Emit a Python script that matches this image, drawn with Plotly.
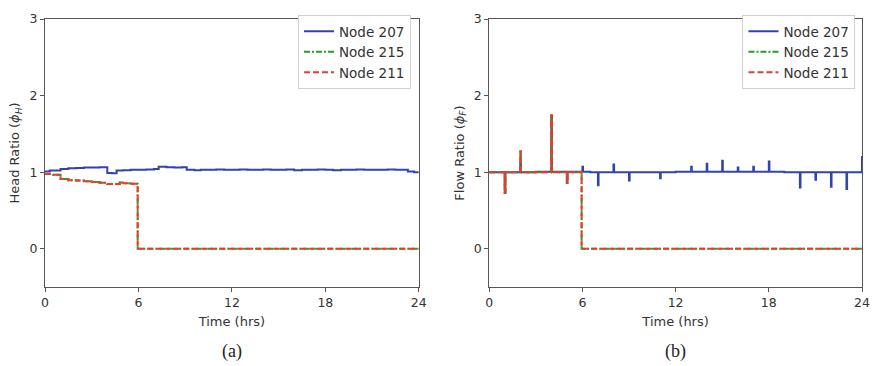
import plotly.graph_objects as go

# ---------------- data ----------------
legend_names = ["Node 207", "Node 215", "Node 211"]
x_ticks = [0, 6, 12, 18, 24]
y_ticks = [0, 1, 2, 3]

# (a) Head ratio
head207_t = [0, 0.3, 0.7, 1.0, 1.5, 2.0, 2.5, 3.0, 3.5, 4.0, 4.3, 4.6, 5.0, 5.5, 6.0, 6.5, 7.0, 7.3, 7.8, 8.3,
             8.8, 9.1, 9.6, 10, 10.5, 11, 11.5, 12, 12.5, 13, 13.5, 14, 14.5, 15, 15.5, 16, 16.5, 17, 17.5, 18,
             18.5, 19, 19.5, 20, 20.5, 21, 21.5, 22, 22.5, 23, 23.3, 23.7, 24]
head207_v = [1.01, 1.02, 1.02, 1.04, 1.05, 1.055, 1.06, 1.06, 1.065, 0.99, 0.985, 1.02, 1.025, 1.03, 1.03, 1.035, 1.04, 1.07, 1.065, 1.06,
             1.065, 1.03, 1.025, 1.03, 1.03, 1.035, 1.03, 1.03, 1.035, 1.03, 1.03, 1.035, 1.03, 1.03, 1.035, 1.025, 1.03, 1.03, 1.035, 1.03,
             1.025, 1.03, 1.03, 1.035, 1.03, 1.03, 1.03, 1.035, 1.03, 1.03, 1.01, 1.0, 1.0]
head215_t = [0, 0.5, 1.0, 1.5, 2.0, 2.5, 3.0, 3.5, 4.0, 4.5, 4.8, 5.0, 5.5, 5.95, 24]
head215_v = [0.975, 0.965, 0.91, 0.895, 0.89, 0.88, 0.87, 0.86, 0.845, 0.845, 0.865, 0.855, 0.85, 0.0, 0.0]
head211_t = head215_t
head211_v = head215_v

# (b) Flow ratio
flow207_base_t = [0, 3, 6.5, 10, 12, 19, 24]
flow207_base_v = [1.0, 1.005, 1.0, 1.0, 1.005, 1.0, 1.0]
flow207_spike_t = [1, 2, 4, 5, 6, 7, 8, 9, 11, 13, 14, 15, 16, 17, 18, 20, 21, 22, 23]
flow207_spike_v = [0.73, 1.13, 1.74, 0.86, 1.07, 0.83, 1.10, 0.89, 0.92, 1.07, 1.11, 1.15, 1.06, 1.07, 1.14, 0.80, 0.90, 0.81, 0.78]
flow207_end_v = 1.21

flow215_spike_t = [1, 2, 4, 5]
flow215_spike_v = [0.73, 1.27, 1.74, 0.86]
flow215_drop_t = 5.95
flow215_before = 1.0
flow215_after = 0.0

colors = ["#3343ad", "#2a9a2a", "#f03a2c"]
dashes = ["solid", "6px,2px,2px,2px", "6px,3px"]
SPIKE_W = 0.04


def base_at(t, bt, bv):
    val = bv[0]
    for tt, vv in zip(bt, bv):
        if tt <= t:
            val = vv
    return val


def build_flow207():
    ts, vs = [], []
    pts = sorted(set(flow207_base_t + flow207_spike_t + [t + SPIKE_W for t in flow207_spike_t]))
    for t in pts:
        if t in flow207_spike_t:
            vs.append(flow207_spike_v[flow207_spike_t.index(t)])
        else:
            vs.append(base_at(t, flow207_base_t, flow207_base_v))
        ts.append(t)
    ts.append(24)
    vs.append(flow207_end_v)
    return ts, vs


def build_flow215():
    pts = sorted(set([0] + flow215_spike_t + [t + SPIKE_W for t in flow215_spike_t] + [flow215_drop_t, 24]))
    ts, vs = [], []
    for t in pts:
        if t in flow215_spike_t:
            vs.append(flow215_spike_v[flow215_spike_t.index(t)])
        elif t >= flow215_drop_t:
            vs.append(flow215_after)
        else:
            vs.append(flow215_before)
        ts.append(t)
    return ts, vs


f207_t, f207_v = build_flow207()
f215_t, f215_v = build_flow215()

fig = go.Figure()

panel_a = [(head207_t, head207_v), (head215_t, head215_v), (head211_t, head211_v)]
panel_b = [(f207_t, f207_v), (f215_t, f215_v), (f215_t, f215_v)]

for i, (t, v) in enumerate(panel_a):
    fig.add_trace(go.Scatter(x=t, y=v, mode="lines", name=legend_names[i],
                             line=dict(color=colors[i], width=2, dash=dashes[i], shape="hv"),
                             xaxis="x", yaxis="y", legend="legend"))
for i, (t, v) in enumerate(panel_b):
    fig.add_trace(go.Scatter(x=t, y=v, mode="lines", name=legend_names[i],
                             line=dict(color=colors[i], width=2, dash=dashes[i], shape="hv"),
                             xaxis="x2", yaxis="y2", legend="legend2"))

axis_common = dict(showline=True, mirror=True, linecolor="#555", linewidth=1,
                   ticks="outside", ticklen=4, tickcolor="#555", showgrid=False, zeroline=False,
                   tickfont=dict(family="DejaVu Sans", size=12.5, color="#333"))

xa = dict(axis_common, range=[0, 24], tickvals=x_ticks,
          title=dict(text="Time (hrs)", font=dict(family="DejaVu Sans", size=13, color="#333"), standoff=7))
ya = dict(axis_common, range=[-0.5, 3], tickvals=y_ticks)

legend_common = dict(bgcolor="white", bordercolor="#d0d0d0", borderwidth=1,
                     font=dict(family="DejaVu Sans", size=13.5, color="#333"),
                     xanchor="right", yanchor="top", tracegroupgap=0)

fig.update_layout(
    width=881, height=366,
    margin=dict(l=45, r=12, t=11, b=79),
    paper_bgcolor="white", plot_bgcolor="white",
    xaxis=dict(xa, domain=[0, 0.4575], anchor="y"),
    yaxis=dict(ya, domain=[0, 1], anchor="x",
               title=dict(text="Head Ratio (<i>ϕ</i><sub><i>H</i></sub>)",
                          font=dict(family="DejaVu Sans", size=13, color="#333"), standoff=6)),
    xaxis2=dict(xa, domain=[0.5437, 1], anchor="y2"),
    yaxis2=dict(ya, domain=[0, 1], anchor="x2",
                title=dict(text="Flow Ratio (<i>ϕ</i><sub><i>F</i></sub>)",
                           font=dict(family="DejaVu Sans", size=13, color="#333"), standoff=6)),
    legend=dict(legend_common, x=0.448, y=1.015),
    legend2=dict(legend_common, x=0.992, y=1.015),
    annotations=[
        dict(text="(a)", x=0.2288, y=-0.24, xref="paper", yref="paper", showarrow=False,
             xanchor="center", yanchor="middle", font=dict(family="Liberation Serif", size=18, color="#222")),
        dict(text="(b)", x=0.7718, y=-0.24, xref="paper", yref="paper", showarrow=False,
             xanchor="center", yanchor="middle", font=dict(family="Liberation Serif", size=18, color="#222")),
    ],
)

fig.write_html("out.html")
